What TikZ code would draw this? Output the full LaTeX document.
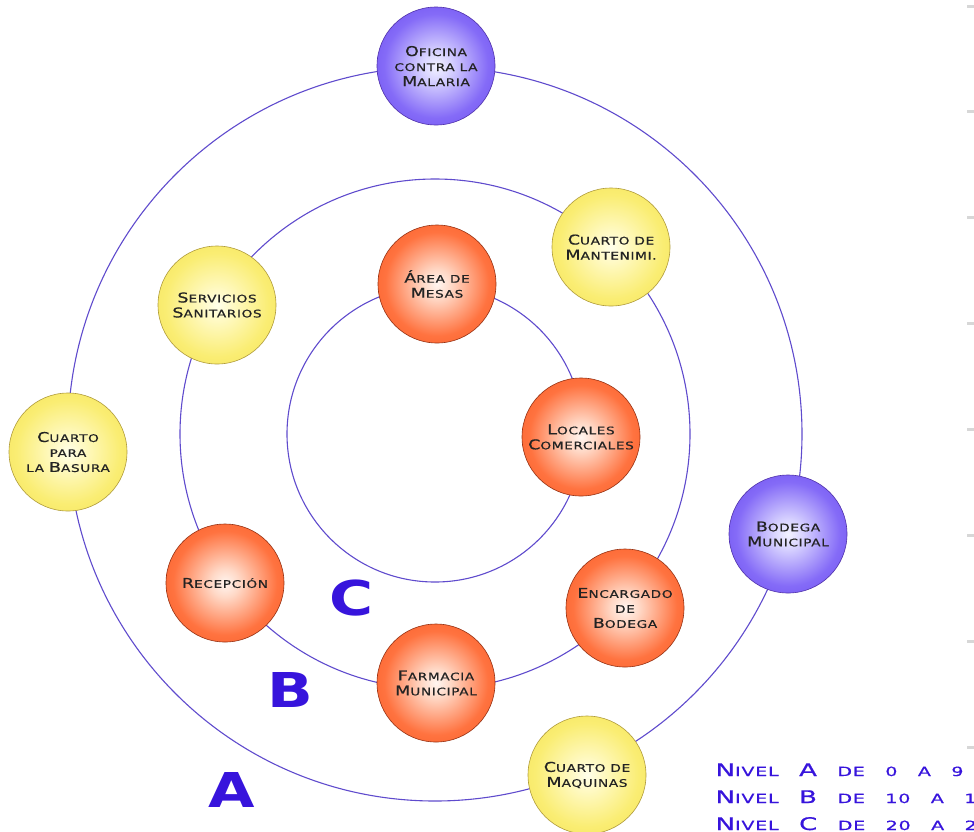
\documentclass[tikz,border=0pt]{standalone}
\usepackage{fontspec}
\usepackage{graphicx}
\newfontfamily\sphfont{DejaVu Sans}[FakeStretch=1.3,LetterSpace=6,FakeBold=0.6]
\newfontfamily\legfont{DejaVu Sans}[FakeStretch=1.5,LetterSpace=6,WordSpace=3,FakeBold=0.8]
\newfontfamily\ringfont{DejaVu Sans}
\definecolor{ringline}{RGB}{95,75,205}
\definecolor{letterblue}{RGB}{55,20,220}
\definecolor{sphtext}{RGB}{35,35,35}
\definecolor{edgegray}{RGB}{215,215,215}
\definecolor{yellowedge}{RGB}{175,155,60}
\definecolor{rededge}{RGB}{150,50,20}
\definecolor{blueedge}{RGB}{80,50,170}
\pgfdeclareradialshading{ballyellow}{\pgfpoint{0bp}{0bp}}{rgb(0bp)=(1,1,0.92);rgb(6bp)=(1,0.98,0.78);rgb(22bp)=(0.98,0.93,0.45);rgb(40bp)=(0.95,0.87,0.3);rgb(50bp)=(0.91,0.8,0.22)}
\pgfdeclareradialshading{ballred}{\pgfpoint{0bp}{0bp}}{rgb(0bp)=(1,0.96,0.94);rgb(6bp)=(1,0.85,0.78);rgb(22bp)=(1,0.45,0.25);rgb(40bp)=(0.96,0.32,0.1);rgb(50bp)=(0.9,0.24,0.04)}
\pgfdeclareradialshading{ballblue}{\pgfpoint{0bp}{0bp}}{rgb(0bp)=(0.95,0.95,1);rgb(6bp)=(0.85,0.83,1);rgb(22bp)=(0.52,0.42,0.97);rgb(40bp)=(0.38,0.25,0.92);rgb(50bp)=(0.3,0.17,0.86)}
\newcommand\ini[1]{{\fontsize{13.5}{15}\selectfont #1}}
\newcommand\legini[1]{{\fontsize{17.4}{20}\selectfont #1}}

\begin{document}
\begin{tikzpicture}[x=1pt,y=-1pt,
  ring/.style={ringline,line width=1.1pt},
  sphere/.style={circle,minimum size=118pt,inner sep=0pt,align=center,
    font=\sphfont\fontsize{10.5}{15}\selectfont,text=sphtext,line width=0.6pt},
  yellowball/.style={sphere,shade,shading=ballyellow,draw=yellowedge},
  redball/.style={sphere,shade,shading=ballred,draw=rededge},
  blueball/.style={sphere,shade,shading=ballblue,draw=blueedge},
  level/.style={text=letterblue,font=\ringfont\bfseries\fontsize{48}{48}\selectfont},
  legend/.style={anchor=base west,text=letterblue,font=\legfont\fontsize{12.7}{15}\selectfont}]
  \useasboundingbox (0,0) rectangle (974,831);
  \clip (0,0) rectangle (974,831);
  \coordinate (ctr) at (435,434);
  \draw[ring] (ctr) circle[radius=367pt];
  \draw[ring] (ctr) circle[radius=255pt];
  \draw[ring] (ctr) circle[radius=148pt];
  \foreach \k in {0,...,7}
    \draw[edgegray,line width=3pt] (967,{6+105.9*\k}) -- (974,{6+105.9*\k});
  \node[blueball] (oficina) at (436,66) {\ini{O}FICINA\\CONTRA LA\\\ini{M}ALARIA};
  \node[yellowball] (servicios) at (217,305) {\ini{S}ERVICIOS\\\ini{S}ANITARIOS};
  \node[yellowball] (mantenimiento) at (611,247) {\ini{C}UARTO DE\\\ini{M}ANTENIMI.};
  \node[redball] (mesas) at (437,284) {\ini{Á}REA DE\\\ini{M}ESAS};
  \node[yellowball] (basura) at (68,452) {\ini{C}UARTO\\PARA\\LA \ini{B}ASURA};
  \node[redball] (locales) at (581,437) {\ini{L}OCALES\\\ini{C}OMERCIALES};
  \node[blueball] (bodega) at (788,534) {\ini{B}ODEGA\\\ini{M}UNICIPAL};
  \node[redball] (recepcion) at (225,583) {\ini{R}ECEPCIÓN};
  \node[redball] (encargado) at (625,608) {\ini{E}NCARGADO\\DE\\\ini{B}ODEGA};
  \node[redball] (farmacia) at (436,683) {\ini{F}ARMACIA\\\ini{M}UNICIPAL};
  \node[yellowball] (maquinas) at (587,775) {\ini{C}UARTO DE\\\ini{M}AQUINAS};
  \node[level] (levc) at (352,598) {\scalebox{1.25}[1]{C}};
  \node[level] (levb) at (290,690) {\scalebox{1.25}[1]{B}};
  \node[level] (leva) at (232,790) {\scalebox{1.25}[1]{A}};
  \node[legend] (niva) at (712,776) {\legini{N}IVEL \legini{A} DE 0 A 9};
  \node[legend] (nivb) at (712,803) {\legini{N}IVEL \legini{B} DE 10 A 19};
  \node[legend] (nivc) at (712,830) {\legini{N}IVEL \legini{C} DE 20 A 29};
\end{tikzpicture}
\end{document}
